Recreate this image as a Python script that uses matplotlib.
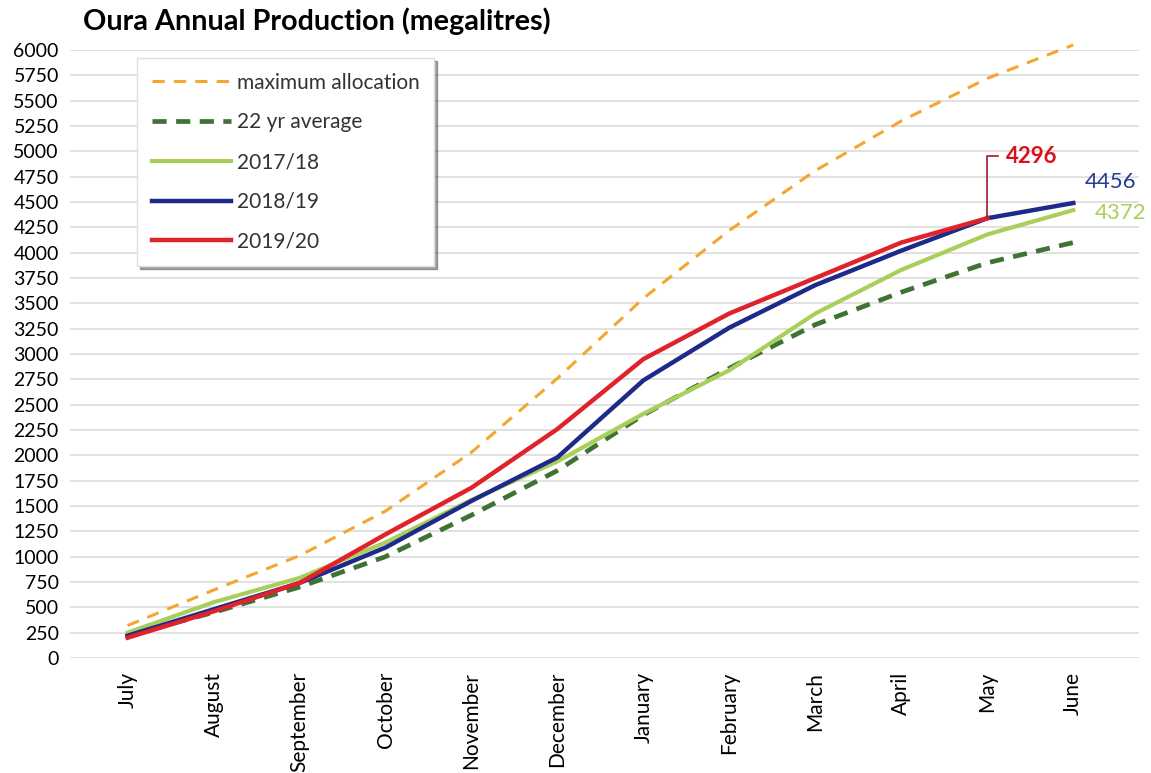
import matplotlib.pyplot as plt
import numpy as np

plt.rcParams['font.family'] = ['Lato', 'DejaVu Sans']

months = ['July', 'August', 'September', 'October', 'November', 'December',
          'January', 'February', 'March', 'April', 'May', 'June']

max_allocation = [320, 670, 1010, 1450, 2030, 2760, 3550, 4220, 4810, 5300, 5720, 6050]
avg_22yr = [220, 450, 700, 1000, 1410, 1850, 2400, 2860, 3290, 3610, 3900, 4100]
y2017_18 = [250, 550, 790, 1140, 1560, 1940, 2410, 2840, 3400, 3830, 4180, 4420]
y2018_19 = [220, 480, 740, 1090, 1550, 1980, 2740, 3260, 3680, 4020, 4340, 4490]
y2019_20 = [200, 460, 740, 1220, 1680, 2260, 2950, 3400, 3750, 4100, 4340]

end_labels = {'2019/20': '4296', '2018/19': '4456', '2017/18': '4372'}

fig = plt.figure(figsize=(11.51, 7.73), dpi=100)
ax = fig.add_axes([0.0608, 0.1488, 0.9292, 0.7865])

x = np.arange(len(months))

ax.plot(x, max_allocation, color='#F5A630', lw=2.2, dashes=(4, 3), label='maximum allocation', clip_on=False, zorder=3)
ax.plot(x, avg_22yr, color='#3E7334', lw=3.4, dashes=(3, 2), label='22 yr average', zorder=3)
ax.plot(x, y2017_18, color='#A9CF5B', lw=3, label='2017/18', zorder=4)
ax.plot(x, y2018_19, color='#1E2A8A', lw=3.2, label='2018/19', zorder=5)
ax.plot(x[:len(y2019_20)], y2019_20, color='#E0232B', lw=3.2, label='2019/20', zorder=6)

# leader line for the 2019/20 label
px = len(y2019_20) - 1
ax.plot([px, px, px + 0.12], [y2019_20[-1], 4950, 4950], color='#A01830', lw=1.2, zorder=6)
ax.text(px + 0.22, 4950, end_labels['2019/20'], color='#D9121B', fontsize=16,
        fontweight='bold', va='center', ha='left')
ax.text(11.13, 4700, end_labels['2018/19'], color='#263A96', fontsize=16, va='center', ha='left')
ax.text(11.25, 4390, end_labels['2017/18'], color='#A9CF5B', fontsize=16, va='center', ha='left')

ax.set_xlim(-0.67, 11.77)
ax.set_ylim(0, 6000)
ax.set_yticks(np.arange(0, 6001, 250))
ax.set_xticks(x)
ax.set_xticklabels(months, rotation=90, fontsize=15)
ax.tick_params(axis='y', labelsize=14, length=0, pad=8)
ax.tick_params(axis='x', length=0, pad=10)
ax.grid(axis='y', color='#DCDCDC', lw=1.2)
ax.set_axisbelow(True)
for s in ax.spines.values():
    s.set_visible(False)

fig.text(0.072, 0.972, 'Oura Annual Production (megalitres)', fontsize=20.7,
         fontweight='bold', va='center', ha='left')

leg = ax.legend(loc='upper left', bbox_to_anchor=(0.119, 0.925), bbox_transform=fig.transFigure,
                fontsize=15, handlelength=3.8, labelspacing=0.95, borderpad=0.7,
                handletextpad=0.3, borderaxespad=0, shadow=True, fancybox=False,
                edgecolor='#E0E0E0', framealpha=1)
for t in leg.get_texts():
    t.set_color('#333333')

fig.savefig('out.png', dpi=100)
